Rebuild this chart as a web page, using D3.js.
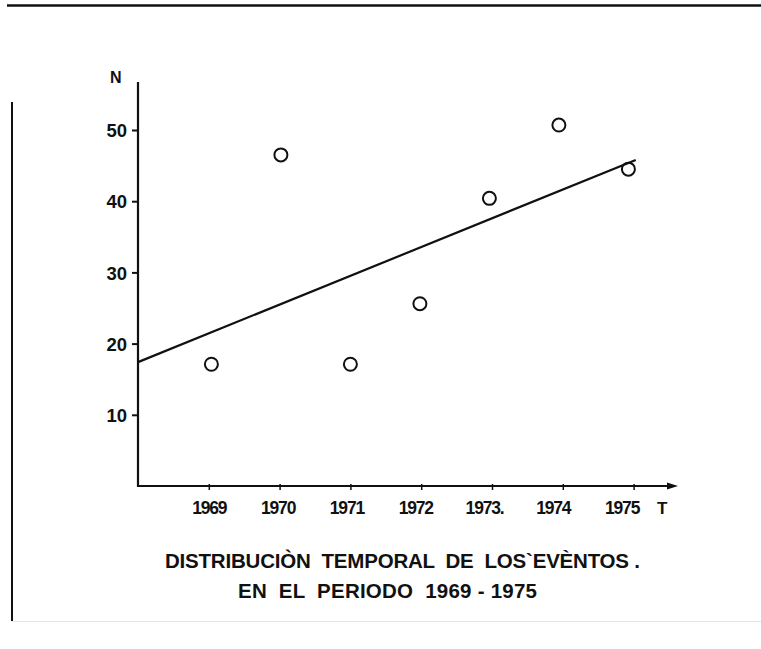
<!DOCTYPE html>
<html>
<head>
<meta charset="utf-8">
<script src="https://cdn.jsdelivr.net/npm/d3@7"></script>
<style>
    body { margin: 0; background: #fff; }
    svg { display: block; }
    .axis text { font-family: "Liberation Sans", Arial, sans-serif; font-weight: bold; fill: #111; }
    .title { font-family: "Liberation Sans", Arial, sans-serif; font-weight: bold; fill: #111; white-space: pre; }
</style>
</head>
<body>
<div id="chart"></div>
<script>
// events per year
const years = [1969, 1970, 1971, 1972, 1973, 1974, 1975]
const counts = [17.1, 46.5, 17.1, 25.6, 40.4, 50.7, 44.5]
const yearLabels = ["1969", "1970", "1971", "1972", "1973.", "1974", "1975"]
const yTicks = [10, 20, 30, 40, 50]
// fitted trend line, end points as drawn
const trendYears = [1968, 1975.03]
const trendCounts = [17.4, 45.8]
const titleLines = ["DISTRIBUCIÒN  TEMPORAL  DE  LOS`EVÈNTOS .", "EN  EL  PERIODO  1969 - 1975"]

;(function () {
    const W = 761, H = 649

    const svg = d3.select("#chart")
        .append("svg")
        .attr("width", W)
        .attr("height", H)

    // page frame bits of the scan
    svg.append("line")
        .attr("x1", 7).attr("x2", W).attr("y1", 5.5).attr("y2", 5.5)
        .attr("stroke", "#111").attr("stroke-width", 2.5)
    svg.append("line")
        .attr("x1", 12).attr("x2", 12).attr("y1", 102).attr("y2", 621)
        .attr("stroke", "#111").attr("stroke-width", 2)
    svg.append("line")
        .attr("x1", 12).attr("x2", W).attr("y1", 621.5).attr("y2", 621.5)
        .attr("stroke", "#e4e4e4").attr("stroke-width", 1)

    const xPositionScale = d3.scaleLinear().domain([1968, 1976]).range([138, 704.4])
    const yPositionScale = d3.scaleLinear().domain([0, 50]).range([486, 130])

    const x0 = xPositionScale(1968), y0 = yPositionScale(0)

    // axis lines
    svg.append("line")
        .attr("x1", x0).attr("x2", x0).attr("y1", 82).attr("y2", y0 + 1)
        .attr("stroke", "#111").attr("stroke-width", 2.2)
    const xEnd = 678
    svg.append("line")
        .attr("x1", x0 - 1).attr("x2", xEnd - 6).attr("y1", y0).attr("y2", y0)
        .attr("stroke", "#111").attr("stroke-width", 2.2)
    svg.append("path")
        .attr("d", `M${xEnd},${y0} L${xEnd - 11},${y0 - 3.5} L${xEnd - 11},${y0 + 3.5} Z`)
        .attr("fill", "#111")

    // y ticks
    const yAxis = d3.axisLeft(yPositionScale)
        .tickValues(yTicks)
        .tickSize(6)
        .tickPadding(5)
    const gy = svg.append("g")
        .attr("class", "axis y-axis")
        .attr("transform", `translate(${x0},0)`)
        .call(yAxis)
    gy.select(".domain").remove()
    gy.selectAll(".tick line").attr("stroke", "#111").attr("stroke-width", 2)
    gy.selectAll(".tick text").attr("font-size", 18.5).attr("dy", "0.36em")

    // x ticks
    const xAxis = d3.axisBottom(xPositionScale)
        .tickValues(years)
        .tickSize(4)
        .tickPadding(12)
        .tickFormat((d, i) => yearLabels[i])
    const gx = svg.append("g")
        .attr("class", "axis x-axis")
        .attr("transform", `translate(0,${y0})`)
        .call(xAxis)
    gx.select(".domain").remove()
    gx.selectAll(".tick line").attr("stroke", "#111").attr("stroke-width", 1.5).attr("y1", -2)
    gx.selectAll(".tick text")
        .attr("font-size", 17.5)
        .attr("dx", (d, i) => -i * 2)
        .attr("letter-spacing", -1.2)

    // axis names
    svg.append("text").attr("class", "title")
        .attr("x", 110).attr("y", 83)
        .attr("font-size", 16)
        .text("N")
    svg.append("text").attr("class", "title")
        .attr("x", 657).attr("y", 514)
        .attr("font-size", 17)
        .text("T")

    // trend line
    const line = d3.line()
        .x(d => xPositionScale(d[0]))
        .y(d => yPositionScale(d[1]))
    svg.append("path")
        .attr("d", line(d3.zip(trendYears, trendCounts)))
        .attr("fill", "none")
        .attr("stroke", "#111")
        .attr("stroke-width", 2.2)

    // observations as open circles
    svg.selectAll(".pt")
        .data(d3.zip(years, counts))
        .enter()
        .append("circle")
        .attr("class", "pt")
        .attr("cx", d => xPositionScale(d[0]) - (d[0] - 1971) * 1.3)
        .attr("cy", d => yPositionScale(d[1]))
        .attr("r", 6.5)
        .attr("fill", "none")
        .attr("stroke", "#111")
        .attr("stroke-width", 2)

    // caption
    svg.append("text").attr("class", "title")
        .attr("x", 165).attr("y", 568)
        .attr("font-size", 20.5)
        .attr("textLength", 475)
        .attr("lengthAdjust", "spacing")
        .text(titleLines[0])
    svg.append("text").attr("class", "title")
        .attr("x", 238).attr("y", 598)
        .attr("font-size", 20.5)
        .attr("textLength", 299)
        .attr("lengthAdjust", "spacing")
        .text(titleLines[1])
})()
</script>
</body>
</html>
